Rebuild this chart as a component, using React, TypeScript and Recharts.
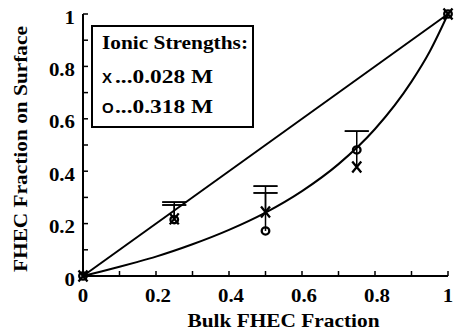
import React from 'react';
import { ComposedChart, XAxis, YAxis, Line, Scatter, ErrorBar, Label } from 'recharts';

// Axis ticks (every 0.1, labelled every 0.2)
const tickValues = [0, 0.1, 0.2, 0.3, 0.4, 0.5, 0.6, 0.7, 0.8, 0.9, 1];
const labelledTicks = [0, 0.2, 0.4, 0.6, 0.8, 1];

// Ideal (y = x) reference line
const diagonalX = [0, 1];
const diagonalY = [0, 1];

// Model curve
const curveX = [0, 0.05, 0.1, 0.15, 0.2, 0.3, 0.4, 0.5, 0.6, 0.7, 0.8, 0.9, 0.95, 1];
const curveY = [0, 0.017, 0.035, 0.054, 0.074, 0.121, 0.176, 0.242, 0.324, 0.427, 0.561, 0.742, 0.857, 1];

// Measured points: 0.028 M (X markers)
const lowX = [0, 0.25, 0.5, 0.75, 1];
const lowY = [0, 0.218, 0.244, 0.416, 1];
const lowErrUp: (number | null)[] = [null, 0.064, 0.073, 0.137, null];

// Measured points: 0.318 M (O markers)
const highX = [0, 0.25, 0.5, 0.75, 1];
const highY = [0, 0.215, 0.172, 0.481, 1];
const highErrUp: (number | null)[] = [null, 0.056, 0.171, null, null];

const legendTitle = 'Ionic Strengths:';
const legendRows = [
  { symbol: 'X', text: '...0.028 M' },
  { symbol: 'O', text: '...0.318 M' },
];
const xTitle = 'Bulk FHEC Fraction';
const yTitle = 'FHEC Fraction on Surface';

const diagonalData = diagonalX.map((x, i) => ({ x, y: diagonalY[i] }));
const curveData = curveX.map((x, i) => ({ x, y: curveY[i] }));
const mkData = (xs: number[], ys: number[], ups: (number | null)[]) =>
  xs.map((x, i) => ({ x, y: ys[i], err: ups[i] == null ? null : [0, ups[i]] }));
const mkCaps = (xs: number[], ys: number[], ups: (number | null)[]) =>
  xs
    .map((x, i) => (ups[i] == null ? null : { x, y: ys[i] + (ups[i] as number), err: [0, 0] }))
    .filter((d) => d != null) as { x: number; y: number; err: number[] }[];
const lowData = mkData(lowX, lowY, lowErrUp);
const highData = mkData(highX, highY, highErrUp);
const capData = [...mkCaps(lowX, lowY, lowErrUp), ...mkCaps(highX, highY, highErrUp)];

const SERIF = "'Liberation Serif', 'Times New Roman', serif";
const SANS = "'Liberation Sans', Arial, sans-serif";
const TICK_LEN = 5;
const TICK_FONT = 19;

const fmt = (v: number) => (v === 0 ? '0' : v === 1 ? '1' : String(v));
const isLabelled = (v: number) => labelledTicks.some((t) => Math.abs(t - v) < 1e-9);
const tickTextLength = (s: string) => {
  let em = 0;
  for (const c of s) em += c === '.' ? 0.25 : 0.5;
  return em * TICK_FONT * 1.1;
};

const BottomTick = (props: any) => {
  const { x, y, payload } = props;
  const v = payload.value;
  const s = fmt(v);
  return (
    <g>
      <line x1={x} y1={y} x2={x} y2={y - TICK_LEN} stroke="#000" strokeWidth={1.5} />
      {isLabelled(v) && (
        <text x={x + (v > 0 && v < 1 ? 2 : 0)} y={y + 26} textAnchor="middle" fontFamily={SERIF} fontWeight="bold" fontSize={TICK_FONT} textLength={tickTextLength(s)} lengthAdjust="spacingAndGlyphs" fill="#000">
          {s}
        </text>
      )}
    </g>
  );
};

const TopTick = (props: any) => {
  const { x, y } = props;
  return <line x1={x} y1={y} x2={x} y2={y + TICK_LEN} stroke="#000" strokeWidth={1.5} />;
};

const LeftTick = (props: any) => {
  const { x, y, payload } = props;
  const v = payload.value;
  const s = fmt(v);
  return (
    <g>
      <line x1={x} y1={y} x2={x + TICK_LEN} y2={y} stroke="#000" strokeWidth={1.5} />
      {isLabelled(v) && (
        <text x={x - 8} y={y + 9.5} textAnchor="end" fontFamily={SERIF} fontWeight="bold" fontSize={TICK_FONT} textLength={tickTextLength(s)} lengthAdjust="spacingAndGlyphs" fill="#000">
          {s}
        </text>
      )}
    </g>
  );
};

const RightTick = (props: any) => {
  const { x, y } = props;
  return <line x1={x} y1={y} x2={x - TICK_LEN} y2={y} stroke="#000" strokeWidth={1.5} />;
};

const XMarker = (props: any) => {
  const { cx, cy } = props;
  if (cx == null || cy == null) return null;
  return (
    <path
      d={`M${cx - 4.5},${cy - 5.5}L${cx + 4.5},${cy + 5.5}M${cx + 4.5},${cy - 5.5}L${cx - 4.5},${cy + 5.5}`}
      stroke="#000"
      strokeWidth={2.3}
      fill="none"
    />
  );
};

const OMarker = (props: any) => {
  const { cx, cy } = props;
  if (cx == null || cy == null) return null;
  return <ellipse cx={cx} cy={cy} rx={3.8} ry={3.6} stroke="#000" strokeWidth={2.3} fill="none" />;
};

const NoMarker = () => <g />;

const XTitle = (props: any) => {
  const vb = props.viewBox || { x: 83, y: 276, width: 365, height: 57 };
  return (
    <text x={vb.x + vb.width / 2 + 18} y={vb.y + 51} textAnchor="middle" fontFamily={SERIF} fontWeight="bold" fontSize={19} textLength={192} lengthAdjust="spacingAndGlyphs" fill="#000">
      {xTitle}
    </text>
  );
};

const YTitle = (props: any) => {
  const vb = props.viewBox || { x: 0, y: 14, width: 83, height: 262 };
  const cx = 27;
  const cy = vb.y + vb.height / 2 + 4;
  return (
    <text x={cx} y={cy} transform={`rotate(-90, ${cx}, ${cy})`} textAnchor="middle" fontFamily={SERIF} fontWeight="bold" fontSize={19} textLength={246} lengthAdjust="spacingAndGlyphs" fill="#000">
      {yTitle}
    </text>
  );
};

export default function App() {
  return (
    <div style={{ position: 'absolute', left: 0, top: 0, width: 454, height: 333, background: '#fff' }}>
      <ComposedChart width={454} height={333} margin={{ top: 14, right: 6, bottom: 0, left: 0 }}>
        <XAxis
          xAxisId="bottom"
          dataKey="x"
          type="number"
          domain={[0, 1]}
          ticks={tickValues}
          interval={0}
          height={57}
          tickSize={0}
          tickMargin={0}
          tickLine={false}
          axisLine={{ stroke: '#000', strokeWidth: 2 }}
          tick={<BottomTick />}
        >
          <Label content={<XTitle />} />
        </XAxis>
        <XAxis
          xAxisId="top"
          orientation="top"
          dataKey="x"
          type="number"
          domain={[0, 1]}
          ticks={tickValues}
          interval={0}
          height={0}
          tickSize={0}
          tickMargin={0}
          tickLine={false}
          axisLine={{ stroke: '#000', strokeWidth: 2 }}
          tick={<TopTick />}
        />
        <YAxis
          yAxisId="left"
          type="number"
          domain={[0, 1]}
          ticks={tickValues}
          interval={0}
          width={83}
          tickSize={0}
          tickMargin={0}
          tickLine={false}
          axisLine={{ stroke: '#000', strokeWidth: 2 }}
          tick={<LeftTick />}
        >
          <Label content={<YTitle />} />
        </YAxis>
        <YAxis
          yAxisId="right"
          orientation="right"
          type="number"
          domain={[0, 1]}
          ticks={tickValues}
          interval={0}
          width={0}
          tickSize={0}
          tickMargin={0}
          tickLine={false}
          axisLine={{ stroke: '#000', strokeWidth: 2 }}
          tick={<RightTick />}
        />
        <Line xAxisId="bottom" yAxisId="left" data={diagonalData} dataKey="y" type="linear" stroke="#000" strokeWidth={2} dot={false} isAnimationActive={false} />
        <Line xAxisId="bottom" yAxisId="left" data={curveData} dataKey="y" type="monotone" stroke="#000" strokeWidth={2} dot={false} isAnimationActive={false} />
        <Scatter xAxisId="bottom" yAxisId="left" data={lowData} dataKey="y" shape={<XMarker />} isAnimationActive={false}>
          <ErrorBar dataKey="err" direction="y" width={0} stroke="#000" strokeWidth={1.5} isAnimationActive={false} />
        </Scatter>
        <Scatter xAxisId="bottom" yAxisId="left" data={highData} dataKey="y" shape={<OMarker />} isAnimationActive={false}>
          <ErrorBar dataKey="err" direction="y" width={0} stroke="#000" strokeWidth={1.5} isAnimationActive={false} />
        </Scatter>
        <Scatter xAxisId="bottom" yAxisId="left" data={capData} dataKey="y" shape={<NoMarker />} isAnimationActive={false}>
          <ErrorBar dataKey="err" direction="y" width={12} stroke="#000" strokeWidth={1.5} isAnimationActive={false} />
        </Scatter>
      </ComposedChart>
      <svg width={454} height={333} style={{ position: 'absolute', left: 0, top: 0, pointerEvents: 'none' }}>
        <rect x={92} y={26} width={161} height={101} fill="#fff" stroke="#000" strokeWidth={2} />
        <text x={102} y={49} fontFamily={SERIF} fontWeight="bold" fontSize={18} textLength={146} lengthAdjust="spacingAndGlyphs" fill="#000">
          {legendTitle}
        </text>
        {legendRows.map((r, i) => (
          <g key={r.symbol}>
            <text x={102} y={83 + i * 30} fontFamily={SANS} fontWeight="bold" fontSize={15} fill="#000">
              {r.symbol}
            </text>
            <text x={115} y={83 + i * 30} fontFamily={SERIF} fontWeight="bold" fontSize={18} textLength={98} lengthAdjust="spacingAndGlyphs" fill="#000">
              {r.text}
            </text>
          </g>
        ))}
      </svg>
    </div>
  );
}
